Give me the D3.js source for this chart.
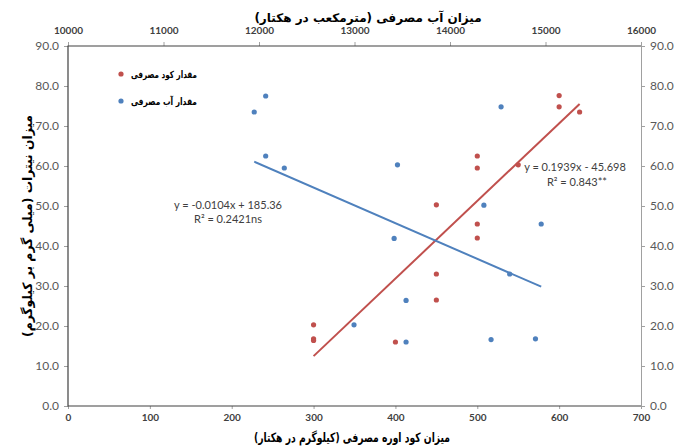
<!DOCTYPE html>
<html><head><meta charset="utf-8">
<script src="https://cdn.jsdelivr.net/npm/d3@7"></script>
<style>body{margin:0;background:#fff}svg{display:block}</style>
</head><body><svg id="c" width="674" height="446"></svg>
<script>
// Urea fertilizer (kg/ha) vs nitrate (mg/kg)
const ureaX = [300,300,300,400,450,450,450,500,500,500,500,550,600,600,625];
const ureaY = [20.3,16.8,16.4,16.0,50.3,33.0,26.5,62.5,59.5,45.5,42.0,60.3,77.6,74.8,73.5];
// Water use (m3/ha) vs nitrate (mg/kg)
const waterX = [12070,11950,12070,12265,13450,13415,12995,14535,14355,14955,14625,13540,13540,14430,14895];
const waterY = [77.5,73.5,62.5,59.5,60.3,41.9,20.3,74.8,50.2,45.5,33.0,26.4,16.0,16.6,16.8];
// trend line coefficients [slope, intercept]
const ureaTrend = [0.1939,-45.698];
const waterTrend = [-0.0104,185.36];
const bottomTicks = [0,100,200,300,400,500,600,700];
const topTicks = [10000,11000,12000,13000,14000,15000,16000];
const yTicks = [0,10,20,30,40,50,60,70,80,90];
const legendLabels = ["مقدار کود مصرفی","مقدار آب مصرفی"];
const titleTop = "میزان آب مصرفی (مترمکعب در هکتار)";
const titleBottom = "میزان کود اوره مصرفی (کیلوگرم در هکتار)";
const titleLeft = "میزان نیترات (میلی گرم بر کیلوگرم)";

const RED="#C0504D", BLUE="#4F81BD";
const L=68,R=641,T=46,B=406;
const svg=d3.select("#c");
const x1=d3.scaleLinear().domain([0,700]).range([L,R]);
const x2=d3.scaleLinear().domain([10000,16000]).range([L,R]);
const y=d3.scaleLinear().domain([0,90]).range([B,T]);

// axes
const fmt1=d3.format(".1f");
const gl=svg.append("g").attr("transform",`translate(${L},0)`).call(d3.axisLeft(y).tickValues(yTicks).tickFormat(fmt1).tickSize(4).tickPadding(5));
const gr=svg.append("g").attr("transform",`translate(${R},0)`).call(d3.axisRight(y).tickValues(yTicks).tickFormat(fmt1).tickSize(4).tickPadding(5));
const gb=svg.append("g").attr("transform",`translate(0,${B})`).call(d3.axisBottom(x1).tickValues(bottomTicks).tickSize(3).tickPadding(5));
const gt=svg.append("g").attr("transform",`translate(0,${T})`).call(d3.axisTop(x2).tickValues(topTicks).tickFormat(d3.format("d")).tickSize(4).tickPadding(8));
[gl,gr].forEach(g=>{g.selectAll("text").attr("font-family","Lato, 'Open Sans', sans-serif").attr("font-size",12).attr("fill","#595959");});
[gb,gt].forEach(g=>{g.selectAll("text").attr("font-family","Lato, 'Open Sans', sans-serif").attr("font-size",10).attr("font-weight","bold").attr("fill","#404040");});
[gl,gr,gb,gt].forEach(g=>{g.selectAll(".tick line").attr("stroke","#a0a0a0");g.select(".domain").attr("stroke","#a0a0a0");});
gl.select(".domain").remove();gb.select(".domain").remove();gt.select(".domain").remove();
svg.append("path").attr("d",`M${R},${T}H${L}V${B}H${R}`).attr("fill","none").attr("stroke","#404040").attr("stroke-width",1.2);

// titles
const fa="'DejaVu Sans', sans-serif";
function faText(t,xx,yy,len,size,rot){
  const el=svg.append("text").attr("text-anchor","middle").attr("font-family",fa).attr("font-weight","bold")
    .attr("font-size",size).attr("direction","rtl").attr("unicode-bidi","plaintext").text(t);
  if(len) el.attr("textLength",len).attr("lengthAdjust","spacingAndGlyphs");
  if(rot) el.attr("transform",`translate(${xx},${yy}) rotate(-90)`); else el.attr("x",xx).attr("y",yy);
  return el;
}
faText(titleTop,368,22,null,12,false);
faText(titleBottom,352,442,196,13,false);
faText(titleLeft,32,226,222,13,true);

// trend lines
function trend(xs,coef,xs_scale,color){
  const ext=d3.extent(xs);
  svg.append("line").attr("x1",xs_scale(ext[0])).attr("y1",y(coef[0]*ext[0]+coef[1]))
    .attr("x2",xs_scale(ext[1])).attr("y2",y(coef[0]*ext[1]+coef[1]))
    .attr("stroke",color).attr("stroke-width",2);
}
trend(ureaX,ureaTrend,x1,RED);
trend(waterX,waterTrend,x2,BLUE);

// points
svg.append("g").selectAll("circle").data(ureaX).join("circle")
  .attr("cx",(d)=>x1(d)).attr("cy",(d,i)=>y(ureaY[i])).attr("r",2.6).attr("fill",RED);
svg.append("g").selectAll("circle").data(waterX).join("circle")
  .attr("cx",(d)=>x2(d)).attr("cy",(d,i)=>y(waterY[i])).attr("r",2.6).attr("fill",BLUE);

// legend
[[RED,74],[BLUE,101]].forEach(([c,yy],i)=>{
  svg.append("circle").attr("cx",121).attr("cy",yy).attr("r",2.6).attr("fill",c);
  faText(legendLabels[i],164,yy+4,66,10,false);
});

// equations
const eq=(t,xx,yy)=>svg.append("text").attr("x",xx).attr("y",yy).attr("text-anchor","middle").attr("font-family","Lato, 'Open Sans', sans-serif").attr("font-size",11).attr("fill","#404040").text(t);
eq("y = -0.0104x + 185.36",228,209);
eq("R² = 0.2421ns",228,223);
eq("y = 0.1939x - 45.698",575,171);
eq("R² = 0.843**",577,186);
</script></body></html>
